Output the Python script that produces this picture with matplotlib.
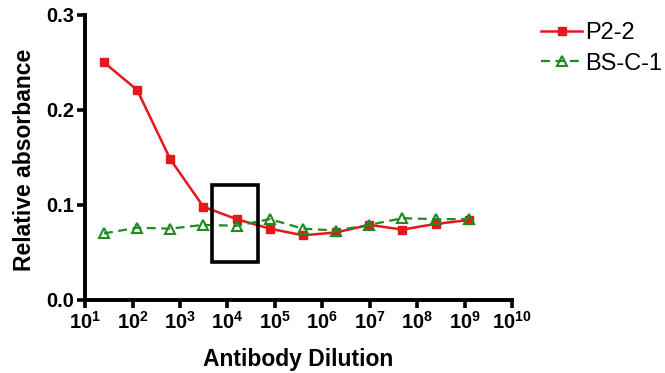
import matplotlib
matplotlib.use("Agg")
import matplotlib.pyplot as plt
from matplotlib.patches import Rectangle

plt.rcParams["font.family"] = ["Liberation Sans", "DejaVu Sans"]
plt.rcParams["mathtext.fontset"] = "custom"
plt.rcParams["mathtext.bf"] = "Liberation Sans:bold"
plt.rcParams["mathtext.rm"] = "Liberation Sans"

# Five-fold serial dilutions of the antibody
dilution = [25, 125, 625, 3125, 15625, 78125, 390625, 1953125,
            9765625, 48828125, 244140625, 1220703125]
p2_2 = [0.250, 0.221, 0.148, 0.098, 0.085, 0.075, 0.068, 0.071,
        0.079, 0.074, 0.080, 0.084]
bs_c_1 = [0.070, 0.076, 0.075, 0.079, 0.078, 0.085, 0.075, 0.073,
          0.079, 0.086, 0.085, 0.085]

red = "#e8161b"
green = "#1f8a1f"

fig = plt.figure(figsize=(6.65, 3.73), dpi=100)
ax = fig.add_axes([0.128, 0.196, 0.642, 0.764])

ax.plot(dilution, p2_2, color=red, lw=1.8, marker="s", ms=6,
        mfc=red, mec=red, label="P2-2", zorder=3)
ax.plot(dilution, bs_c_1, color=green, lw=1.6, ls=(0, (4, 2.5)),
        marker="^", ms=7.5, mfc="none", mec=green, mew=1.5,
        label="BS-C-1", zorder=4)

# Highlight box around the crossover region
box_x0, box_x1 = 10**3.68, 10**4.65
box_y0, box_y1 = 0.040, 0.121
ax.add_patch(Rectangle((box_x0, box_y0), box_x1 - box_x0, box_y1 - box_y0,
                       fill=False, ec="black", lw=2.6, zorder=5))

ax.set_xscale("log")
ax.set_xlim(10, 1e10)
ax.set_ylim(0, 0.3)
ax.set_xticks([10**k for k in range(1, 11)])
ax.set_xticklabels([f"$\\mathbf{{10^{{{k}}}}}$" for k in range(1, 11)])
ax.minorticks_off()
ax.set_yticks([0.0, 0.1, 0.2, 0.3])
ax.set_yticklabels(["0.0", "0.1", "0.2", "0.3"])

for side in ("top", "right"):
    ax.spines[side].set_visible(False)
for side in ("left", "bottom"):
    ax.spines[side].set_linewidth(2.8)

ax.tick_params(axis="both", which="major", width=2.6, length=6,
               labelsize=14.5, direction="out", pad=2)
for lbl in ax.get_yticklabels():
    lbl.set_fontweight("bold")

ax.set_xlabel("Antibody Dilution", fontsize=16.5, fontweight="bold", labelpad=11)
ax.set_ylabel("Relative absorbance", fontsize=16.5, fontweight="bold")
ax.yaxis.set_label_coords(-0.115, 0.49)

leg = fig.legend(loc="upper left", bbox_to_anchor=(0.800, 0.965), frameon=False,
                 fontsize=17, handlelength=1.7, handletextpad=0.15,
                 labelspacing=0.35, borderaxespad=0)

fig.savefig("out.png", dpi=100)
